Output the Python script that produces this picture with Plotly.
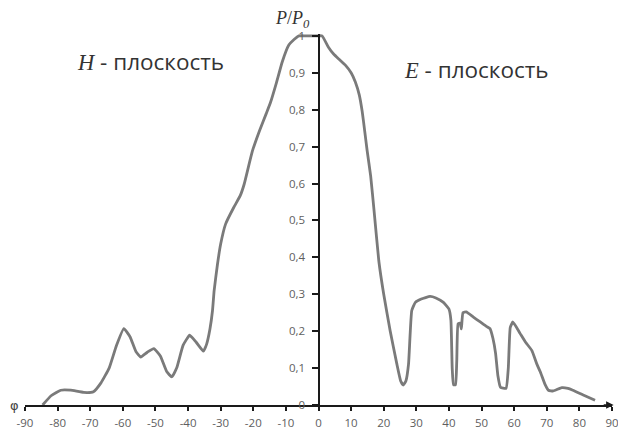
import plotly.graph_objects as go

# H-plane (negative angles, phi)
h_angle = [-84.6, -82, -79, -76, -72, -69, -66.7, -64.2, -62, -59.7, -57.8, -56, -54.5,
           -52.5, -50.5, -48.5, -46.5, -45, -43.5, -41.5, -39.5, -37.5, -35.3, -34.3,
           -33.3, -32.5, -32, -31, -30, -28.5, -26, -24, -22.8, -20.3, -18, -16, -14.7,
           -13, -11.1, -9.1, -7.5, -6, -4, -2, 0]
h_value = [0.0, 0.025, 0.04, 0.04, 0.034, 0.036, 0.06, 0.10, 0.16, 0.207, 0.185, 0.145,
           0.13, 0.143, 0.153, 0.133, 0.09, 0.076, 0.10, 0.162, 0.189, 0.17, 0.146, 0.165,
           0.205, 0.256, 0.31, 0.38, 0.436, 0.49, 0.535, 0.567, 0.598, 0.687, 0.745, 0.79,
           0.82, 0.87, 0.93, 0.975, 0.99, 1.0, 1.0, 1.0, 1.0]

# E-plane (positive angles, theta)
e_angle = [0, 1.1, 3, 4.7, 6.5, 8.3, 10, 11.3, 12.5, 13.4, 14.2, 14.9, 16, 17, 18.5, 20,
           22, 24, 25.2, 26, 26.8, 27.6, 28.6, 29.7, 31.5, 34.2, 36, 38.3, 40, 40.6, 41.0,
           41.4, 42.0, 42.4, 42.8, 43.4, 43.8, 44.3, 45.3, 47.5, 49.6, 51.5, 52.6, 53.5,
           54.3, 55.0, 55.8, 57.5, 58.2, 58.8, 59.6, 61.8, 63.5, 65.4, 67, 68, 69.5, 70.5,
           72, 74.6, 76.5, 78, 81, 84.8]
e_value = [1.0, 1.0, 0.97, 0.95, 0.935, 0.92, 0.9, 0.875, 0.84, 0.795, 0.74, 0.69, 0.62,
           0.53, 0.39, 0.30, 0.20, 0.112, 0.065, 0.054, 0.065, 0.11, 0.256, 0.278, 0.287,
           0.294, 0.29, 0.278, 0.26, 0.23, 0.10, 0.055, 0.055, 0.12, 0.22, 0.222, 0.206,
           0.25, 0.252, 0.238, 0.225, 0.213, 0.207, 0.18, 0.14, 0.08, 0.048, 0.045, 0.10,
           0.21, 0.225, 0.194, 0.17, 0.148, 0.11, 0.09, 0.055, 0.04, 0.038, 0.047, 0.045,
           0.04, 0.028, 0.013]

x_ticks = [-90, -80, -70, -60, -50, -40, -30, -20, -10, 0, 10, 20, 30, 40, 50, 60, 70, 80, 90]
y_ticks = [0, 0.1, 0.2, 0.3, 0.4, 0.5, 0.6, 0.7, 0.8, 0.9, 1]
y_tick_text = ["0", "0,1", "0,2", "0,3", "0,4", "0,5", "0,6", "0,7", "0,8", "0,9", "1"]

angles = h_angle + e_angle[1:]
values = h_value + e_value[1:]

fig = go.Figure()
fig.add_trace(go.Scatter(
    x=angles, y=values, mode="lines",
    line=dict(color="#7a7a7a", width=2.8, shape="spline", smoothing=0.4),
    hoverinfo="skip", showlegend=False,
))

tick_font = dict(family="Open Sans, sans-serif", size=11.5, color="#5e5e5e")

# the page body has an 8px default margin, so the figure is 8px smaller
fig.update_layout(
    width=618, height=421,
    margin=dict(l=17, r=14, t=26, b=24, autoexpand=False),
    paper_bgcolor="white", plot_bgcolor="white",
    showlegend=False,
    xaxis=dict(
        range=[-90, 90], tickvals=x_ticks, ticktext=[str(v) for v in x_ticks],
        showgrid=False, zeroline=False, showline=True, linecolor="#1a1a1a", linewidth=2,
        ticks="outside", ticklen=4, tickwidth=2, tickcolor="#1a1a1a",
        tickfont=tick_font, ticklabelstandoff=2, fixedrange=True, automargin=False,
    ),
    yaxis=dict(
        range=[0, 1.005], tickvals=y_ticks, ticktext=y_tick_text,
        anchor="free", position=0.5,
        showgrid=False, zeroline=False, showline=True, linecolor="#1a1a1a", linewidth=2,
        ticks="outside", ticklen=6, tickwidth=2, tickcolor="#1a1a1a",
        tickfont=tick_font, ticklabelstandoff=4, fixedrange=True, automargin=False,
    ),
)

serif = "Liberation Serif, DejaVu Serif, serif"
label_font = dict(family="Open Sans, sans-serif", size=22.5, color="#333333")

fig.add_annotation(
    xref="paper", yref="paper", x=0.213, y=0.927, showarrow=False,
    text='<span style="font-family:Liberation Serif"><i>H</i></span> - плоскость',
    font=label_font, xanchor="center", yanchor="middle",
)
fig.add_annotation(
    xref="paper", yref="paper", x=0.770, y=0.903, showarrow=False,
    text='<span style="font-family:Liberation Serif"><i>E</i></span> - плоскость',
    font=label_font, xanchor="center", yanchor="middle",
)
fig.add_annotation(
    xref="paper", yref="paper", x=0.455, y=1.072, showarrow=False,
    text="<i>P</i>/<i>P</i><sub><i>0</i></sub>", borderpad=0,
    font=dict(family=serif, size=18, color="#333333"), xanchor="center", yanchor="top",
)
fig.add_annotation(
    xref="paper", yref="y", x=-0.029, y=0, showarrow=False, text="φ",
    font=dict(family="DejaVu Sans, sans-serif", size=13, color="#444444"),
    xanchor="left", yanchor="middle",
)
fig.add_annotation(
    xref="paper", yref="y", x=1.006, y=0, showarrow=False, text="θ",
    font=dict(family="DejaVu Sans, sans-serif", size=15, color="#444444"),
    xanchor="left", yanchor="middle",
)
fig.add_annotation(
    xref="x", yref="y", axref="x", ayref="y", x=90.5, y=0, ax=87, ay=0,
    showarrow=True, arrowhead=2, arrowsize=1, arrowwidth=1.5, arrowcolor="#1a1a1a",
    text="",
)

fig.write_html("out.html")
